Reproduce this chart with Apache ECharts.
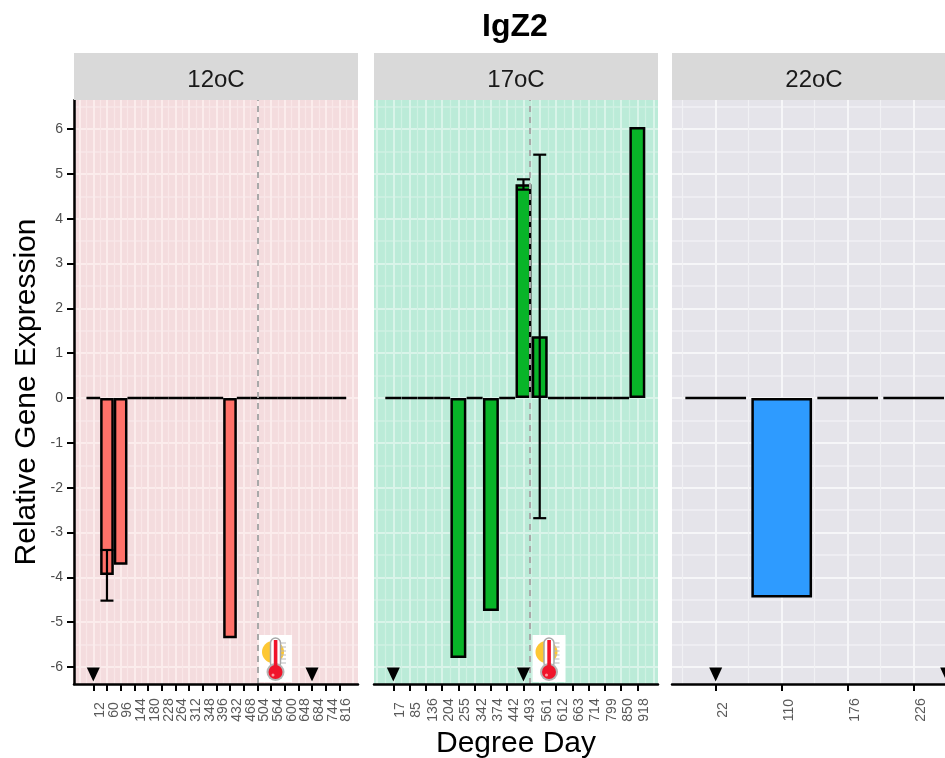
<!DOCTYPE html>
<html><head><meta charset="utf-8">
<style>html,body{margin:0;padding:0;background:#fff}#c{width:945px;height:758px}</style>
<script src="https://cdn.jsdelivr.net/npm/echarts@6/dist/echarts.min.js"></script></head>
<body><div id="c"></div>
<script>
const panelNames = ['12oC', '17oC', '22oC'];
const cats12 = ['12','60','96','144','180','228','264','312','348','396','432','468','504','564','600','648','684','744','816'];
const vals12 = [0,-3.95,-3.72,0,0,0,0,0,0,0,-5.36,0,0,0,0,0,0,0,0];
const cats17 = ['17','85','136','204','255','342','374','442','493','561','612','663','714','799','850','918'];
const vals17 = [0,0,0,0,-5.8,0,-4.75,0,4.77,1.38,0,0,0,0,0,6.05];
const cats22 = ['22','110','176','226'];
const vals22 = [0,-4.45,0,0];
const err12 = [['60',-4.52,-3.39]];
const err17 = [['493',4.65,4.88],['561',-2.68,5.43]];
const err22 = [];
const arrows12 = [0,16];
const arrows17 = [0,8];
const arrows22 = [0,3.5];
const shift12 = 12, shift17 = 8.4;
const yInts = [-6,-5,-4,-3,-2,-1,0,1,2,3,4,5,6];
const yHalves = [-5.5,-4.5,-3.5,-2.5,-1.5,-0.5,0.5,1.5,2.5,3.5,4.5,5.5,6.5];

const FONT = '"Liberation Sans", Arial, sans-serif';
const TOP = 100, H = 584, YMIN = -6.38, YMAX = 6.65, PW = 284;
const panels = [
  {name:panelNames[0],left:74,x0:93.3,band:13.67,blanks:1,barW:'100%',cats:cats12,vals:vals12,err:err12,arrows:arrows12,shift:shift12,bg:'#f4dcde',major:'#fbecec',minor:'#f9e7e8',bar:'#ff7169'},
  {name:panelNames[1],left:374,x0:393.3,band:16.27,blanks:1,barW:'98%',cats:cats17,vals:vals17,err:err17,arrows:arrows17,shift:shift17,bg:'#bbebd8',major:'#d9f4e9',minor:'#cff1e3',bar:'#08b428'},
  {name:panelNames[2],left:672,x0:715.7,band:66,blanks:0,barW:'92%',cats:cats22,vals:vals22,err:err22,arrows:arrows22,shift:null,bg:'#e5e4ea',major:'#f6f6f8',minor:'#f1f1f4',bar:'#2e9bff'}
];
const grid=[],xAxis=[],yAxis=[],series=[],graphic=[];
const hiddenY=(g,extra)=>Object.assign({type:'value',gridIndex:g,min:YMIN,max:YMAX,axisLine:{show:false},axisTick:{show:false},axisLabel:{show:false},splitLine:{show:false}},extra||{});

panels.forEach((p,i)=>{
  // background grid: x axis runs in category-index units
  const gBg=grid.length;
  grid.push({left:p.left,top:TOP,width:PW,height:H,show:true,backgroundColor:p.bg,borderWidth:0,outerBoundsMode:'none'});
  const imin=(p.left-p.x0)/p.band;
  const xBg=xAxis.length;
  xAxis.push({type:'value',gridIndex:gBg,min:imin,max:imin+PW/p.band,position:'bottom',z:5,
    axisLine:{show:true,onZero:false,lineStyle:{color:'#000',width:2.5}},axisTick:{show:false},axisLabel:{show:false},splitLine:{show:false},
    ...(i===1?{name:'Degree Day',nameLocation:'middle',nameGap:45,nameTextStyle:{fontFamily:FONT,fontSize:30,color:'#000'}}:{})});
  const yBg=yAxis.length;
  yAxis.push(hiddenY(gBg,{axisTick:{show:false,customValues:yHalves},splitLine:{show:true,lineStyle:{color:p.minor,width:1.5}}}));
  yAxis.push(hiddenY(gBg,Object.assign({
    axisTick:{show:i===0,length:7,customValues:yInts,lineStyle:{color:'#000',width:2}},
    splitLine:{show:true,lineStyle:{color:p.major,width:2}},
    axisLabel:{show:i===0,customValues:yInts,color:'#4d4d4d',fontFamily:FONT,fontSize:14,margin:11}
  }, i===0?{axisLine:{show:true,onZero:false,lineStyle:{color:'#000',width:2.5}},name:'Relative Gene Expression',nameLocation:'middle',nameGap:32,nameTextStyle:{fontFamily:FONT,fontSize:30,color:'#000'}}:{})));
  yAxis[yBg+1].position='left';

  // band grid
  const gIn=grid.length;
  const blank=p.blanks?['']:[];
  const cats=[...blank,...p.cats,...blank];
  const vals=[...(p.blanks?[null]:[]),...p.vals,...(p.blanks?[null]:[])];
  grid.push({left:p.x0-(p.blanks+0.5)*p.band,top:TOP,width:cats.length*p.band,height:H,outerBoundsMode:'none'});
  const xMain=xAxis.length;
  xAxis.push({type:'category',gridIndex:gIn,data:cats,position:'bottom',
    axisLine:{show:false,onZero:false},
    axisTick:{show:true,alignWithLabel:true,length:7,interval:(k,v)=>v!=='',lineStyle:{color:'#000',width:2}},
    axisLabel:{interval:0,rotate:90,align:'center',verticalAlign:'top',margin:26,hideOverlap:false,color:'#5a5a5a',fontFamily:FONT,fontSize:14},
    splitLine:{show:true,alignWithLabel:true,interval:0,lineStyle:{color:p.major,width:2}}});
  xAxis.push({type:'category',gridIndex:gIn,data:cats,position:'bottom',
    axisLine:{show:false,onZero:false},axisTick:{show:false},axisLabel:{show:false},
    splitLine:{show:true,interval:0,lineStyle:{color:p.minor,width:1.2}}});
  const yIn=yAxis.length;
  yAxis.push(hiddenY(gIn));

  series.push({type:'bar',name:p.name,xAxisIndex:xMain,yAxisIndex:yIn,data:vals,barWidth:p.barW,z:3,
    itemStyle:{color:p.bar,borderColor:'#000',borderWidth:2.5}});
  if(p.err.length) series.push({type:'custom',xAxisIndex:xMain,yAxisIndex:yIn,z:4,
    data:p.err,encode:{x:0,y:[1,2]},
    renderItem:(params,api)=>{
      const x=api.value(0),lo=api.coord([x,api.value(1)]),hi=api.coord([x,api.value(2)]);
      const w=6.5,st={stroke:'#000',lineWidth:2.2,fill:null};
      return {type:'group',children:[
        {type:'line',shape:{x1:lo[0],y1:lo[1],x2:hi[0],y2:hi[1]},style:st},
        {type:'line',shape:{x1:lo[0]-w,y1:lo[1],x2:lo[0]+w,y2:lo[1]},style:st},
        {type:'line',shape:{x1:hi[0]-w,y1:hi[1],x2:hi[0]+w,y2:hi[1]},style:st}]};
    }});
  // arrows and shift line on the background grid
  series.push({type:'scatter',xAxisIndex:xBg,yAxisIndex:yBg,z:6,symbol:'triangle',symbolRotate:180,symbolSize:[13,14],
    data:p.arrows.map(a=>[a,-6.17]),itemStyle:{color:'#000',opacity:1},silent:true,
    markLine:p.shift===null?undefined:{silent:true,symbol:'none',label:{show:false},animation:false,z:5,
      lineStyle:{color:'#a9a9a9',type:[6,5],width:2},data:[{xAxis:p.shift}]}});

  // strip
  graphic.push({type:'rect',left:p.left,top:53,shape:{width:PW,height:47},style:{fill:'#d9d9d9'},z:10});
  graphic.push({type:'text',x:p.left+PW/2,y:80.5,style:{text:p.name,font:'24px '+FONT,fill:'#1a1a1a',textAlign:'center',textVerticalAlign:'middle'},z:11});
  // white gutter between panels
  if(i<2) graphic.push({type:'rect',x:p.left+PW+1.5,y:TOP,shape:{width:i===0?13.5:11.5,height:H+1},style:{fill:'#fff'},z:2});
  // thermometer icon
  if(p.shift!==null){
    const ox=i===0?259:532.5;
    graphic.push({type:'group',x:ox,y:635,z:20,children:[
      {type:'rect',shape:{x:0,y:0,width:33,height:47},style:{fill:'#fff'},z:20},
      {type:'circle',shape:{cx:14,cy:17,r:11},style:{fill:'#fdc733'},z:21},
      {type:'rect',shape:{x:11.5,y:3,width:10,height:30,r:5},style:{fill:'#fff',stroke:'#a8a8a8',lineWidth:1.5},z:22},
      {type:'circle',shape:{cx:16.5,cy:37,r:9},style:{fill:'#b5b5b5'},z:22},
      {type:'rect',shape:{x:14.8,y:5,width:3.6,height:30},style:{fill:'#f0142a'},z:23},
      {type:'circle',shape:{cx:16.5,cy:37,r:7},style:{fill:'#f0142a'},z:23},
      {type:'circle',shape:{cx:14,cy:40,r:1.5},style:{fill:'#ff9aa0'},z:24},
      ...[8,12,16,20,24,28].map(y=>({type:'line',shape:{x1:22,y1:y,x2:27,y2:y},style:{stroke:'#b9b9b9',lineWidth:1},z:22}))
    ]});
  }
});

const chart=echarts.init(document.getElementById('c'),null,{renderer:'canvas'});
chart.setOption({animation:false,backgroundColor:'#fff',
  title:{text:'IgZ2',top:11,padding:0,textStyle:{fontFamily:FONT,fontSize:32,fontWeight:'bold',color:'#000'},textAlign:'center',left:515},
  grid,xAxis,yAxis,series,graphic});
</script></body></html>
